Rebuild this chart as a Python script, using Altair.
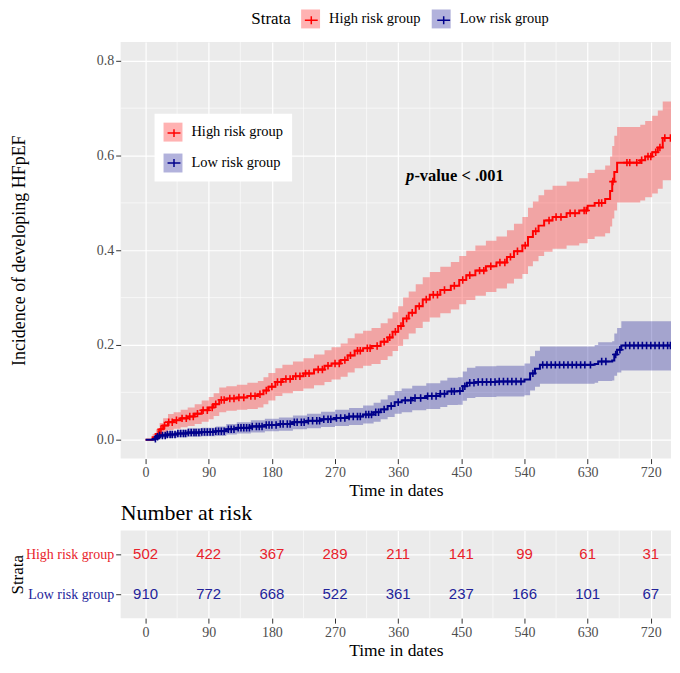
import altair as alt
import numpy as np
import pandas as pd

SERIF = "Liberation Serif"
SANS = "Liberation Sans"

strata = ["High risk group", "Low risk group"]
line_colors = ["#FF0000", "#00008B"]
table_colors = ["#E8222B", "#23239A"]

# ---- High risk group: step knots (time, estimate, lower, upper)
high_time = [0, 10, 15, 20, 25, 32, 40, 50, 60, 70, 80, 90, 97, 105, 115, 130, 145, 160, 168, 175,
             185, 195, 210, 225, 240, 255, 265, 278, 288, 298, 310, 322, 335, 345, 352, 360, 367, 375,
             385, 395, 405, 420, 435, 447, 457, 470, 485, 500, 515, 525, 537, 545, 552, 560, 568, 580,
             600, 618, 630, 640, 655, 662, 665, 668, 672, 705, 712, 722, 730, 737, 755]
high_est = [0, 0.005, 0.012, 0.022, 0.030, 0.037, 0.041, 0.045, 0.049, 0.055, 0.062, 0.068, 0.075, 0.084,
            0.087, 0.089, 0.092, 0.096, 0.104, 0.112, 0.122, 0.128, 0.134, 0.140, 0.148, 0.156, 0.161,
            0.168, 0.178, 0.188, 0.193, 0.198, 0.207, 0.216, 0.228, 0.240, 0.256, 0.268, 0.282, 0.296,
            0.306, 0.316, 0.325, 0.337, 0.347, 0.357, 0.366, 0.374, 0.386, 0.398, 0.410, 0.428, 0.440,
            0.452, 0.463, 0.470, 0.478, 0.484, 0.494, 0.500, 0.508, 0.525, 0.545, 0.565, 0.585, 0.590,
            0.598, 0.607, 0.617, 0.637, 0.637]
high_lo = [0, 0.000, 0.003, 0.009, 0.015, 0.020, 0.023, 0.026, 0.029, 0.033, 0.038, 0.043, 0.050, 0.058,
           0.061, 0.063, 0.065, 0.068, 0.075, 0.083, 0.092, 0.098, 0.103, 0.108, 0.115, 0.122, 0.127,
           0.133, 0.142, 0.151, 0.156, 0.160, 0.168, 0.176, 0.187, 0.198, 0.212, 0.224, 0.236, 0.249,
           0.258, 0.267, 0.275, 0.286, 0.295, 0.304, 0.312, 0.319, 0.330, 0.340, 0.350, 0.366, 0.377,
           0.388, 0.397, 0.403, 0.410, 0.415, 0.424, 0.429, 0.436, 0.450, 0.467, 0.484, 0.501, 0.505,
           0.512, 0.520, 0.530, 0.548, 0.548]
high_up = [0, 0.012, 0.022, 0.035, 0.045, 0.054, 0.058, 0.063, 0.068, 0.075, 0.083, 0.090, 0.098, 0.110,
           0.113, 0.116, 0.120, 0.124, 0.132, 0.141, 0.151, 0.158, 0.165, 0.172, 0.180, 0.189, 0.195,
           0.203, 0.214, 0.224, 0.230, 0.236, 0.246, 0.256, 0.269, 0.282, 0.300, 0.313, 0.328, 0.343,
           0.354, 0.365, 0.375, 0.388, 0.399, 0.410, 0.420, 0.429, 0.442, 0.456, 0.470, 0.490, 0.503,
           0.516, 0.528, 0.536, 0.545, 0.552, 0.563, 0.570, 0.579, 0.598, 0.620, 0.642, 0.660, 0.665,
           0.673, 0.684, 0.695, 0.714, 0.714]

# ---- Low risk group
low_time = [0, 12, 15, 20, 30, 45, 60, 80, 100, 115, 130, 150, 170, 190, 210, 230, 250, 270, 290, 310,
            325, 335, 345, 355, 365, 380, 400, 420, 430, 445, 452, 458, 470, 500, 540, 548, 555, 562,
            600, 640, 645, 665, 668, 672, 678, 755]
low_est = [0, 0.002, 0.006, 0.009, 0.011, 0.013, 0.015, 0.016, 0.018, 0.022, 0.025, 0.028, 0.031, 0.033,
           0.037, 0.040, 0.043, 0.046, 0.049, 0.053, 0.058, 0.064, 0.071, 0.079, 0.083, 0.088, 0.092,
           0.097, 0.102, 0.103, 0.113, 0.120, 0.122, 0.123, 0.127, 0.140, 0.150, 0.158, 0.158, 0.160,
           0.165, 0.167, 0.180, 0.190, 0.199, 0.199]
low_lo = [0, 0.000, 0.001, 0.003, 0.004, 0.005, 0.006, 0.007, 0.008, 0.011, 0.013, 0.015, 0.018, 0.019,
          0.022, 0.024, 0.027, 0.029, 0.031, 0.034, 0.038, 0.043, 0.048, 0.055, 0.058, 0.062, 0.065,
          0.069, 0.073, 0.074, 0.082, 0.088, 0.090, 0.091, 0.094, 0.104, 0.112, 0.118, 0.118, 0.120,
          0.124, 0.125, 0.135, 0.142, 0.146, 0.146]
low_up = [0, 0.005, 0.011, 0.015, 0.018, 0.021, 0.024, 0.025, 0.028, 0.033, 0.037, 0.041, 0.044, 0.047,
          0.051, 0.055, 0.059, 0.063, 0.067, 0.072, 0.078, 0.085, 0.094, 0.103, 0.108, 0.114, 0.119,
          0.125, 0.131, 0.132, 0.144, 0.152, 0.155, 0.156, 0.161, 0.176, 0.188, 0.197, 0.197, 0.200,
          0.206, 0.208, 0.224, 0.236, 0.250, 0.250]

# ---- censoring times
high_censor = [18, 22, 27, 33, 38, 44, 52, 58, 63, 68, 74, 82, 88, 95, 100, 108, 112, 120, 126, 133, 140,
               150, 156, 163, 172, 180, 188, 193, 200, 206, 214, 220, 228, 233, 246, 252, 260, 270, 276,
               284, 292, 302, 306, 316, 320, 330, 340, 348, 356, 364, 372, 380, 390, 400, 410, 416, 426,
               440, 452, 462, 476, 482, 492, 505, 512, 520, 530, 541, 556, 575, 585, 592, 605, 612, 625,
               628, 646, 650, 666, 686, 690, 700, 707, 716, 720, 727, 733, 740, 748]
low_censor = [14, 17, 20, 24, 28, 31, 35, 38, 42, 46, 50, 54, 57, 61, 65, 69, 72, 76, 80, 84, 88, 92, 96,
              100, 104, 108, 112, 118, 122, 126, 132, 136, 140, 144, 148, 152, 158, 162, 166, 172, 176,
              180, 186, 192, 196, 202, 206, 212, 216, 222, 226, 232, 238, 244, 248, 254, 260, 264, 272,
              278, 284, 290, 296, 302, 306, 314, 318, 322, 328, 332, 340, 350, 360, 370, 378, 384, 392,
              402, 408, 414, 420, 426, 436, 440, 448, 455, 462, 468, 474, 480, 486, 492, 498, 504, 510,
              516, 522, 528, 535, 552, 566, 572, 578, 584, 590, 596, 602, 608, 614, 620, 626, 634, 650,
              656, 670, 676, 684, 690, 696, 702, 708, 714, 720, 726, 732, 738, 744, 748]

# ---- number at risk
risk_times = [0, 90, 180, 270, 360, 450, 540, 630, 720]
risk_high = [502, 422, 367, 289, 211, 141, 99, 61, 31]
risk_low = [910, 772, 668, 522, 361, 237, 166, 101, 67]

# ---- axes / grid breaks
x_ticks = [0, 90, 180, 270, 360, 450, 540, 630, 720]
x_minor = [45, 135, 225, 315, 405, 495, 585, 675]
y_ticks = [0.0, 0.2, 0.4, 0.6, 0.8]
y_minor = [0.1, 0.3, 0.5, 0.7]
x_domain = [-35.5, 748.8]
y_domain = [-0.04, 0.84]

pval_coord = [371, 0.556]

# ---------------- data frames
curve = pd.concat([
    pd.DataFrame({"time": high_time, "est": high_est, "lo": high_lo, "up": high_up, "strata": strata[0]}),
    pd.DataFrame({"time": low_time, "est": low_est, "lo": low_lo, "up": low_up, "strata": strata[1]}),
], ignore_index=True)


def censor_frame(times, knots, est, name):
    knots = np.asarray(knots)
    est = np.asarray(est)
    idx = np.searchsorted(knots, np.asarray(times), side="right") - 1
    return pd.DataFrame({"time": times, "est": est[idx], "strata": name})


censor = pd.concat([
    censor_frame(high_censor, high_time, high_est, strata[0]),
    censor_frame(low_censor, low_time, low_est, strata[1]),
], ignore_index=True)

risk = pd.concat([
    pd.DataFrame({"time": risk_times, "n": risk_high, "strata": strata[0]}),
    pd.DataFrame({"time": risk_times, "n": risk_low, "strata": strata[1]}),
], ignore_index=True)

xminor_df = pd.DataFrame({"time": x_minor})
yminor_df = pd.DataFrame({"est": y_minor})
pval_df = pd.DataFrame({"time": [pval_coord[0]], "est": [pval_coord[1]],
                        "p": ["p"], "rest": ["-value < .001"]})

# ---------------- axes
def x_axis():
    return alt.Axis(values=x_ticks, title="Time in dates", titleFont=SERIF, titleFontSize=17.5,
                    titleFontWeight="normal", titleColor="black", titlePadding=2,
                    labelFont=SERIF, labelFontSize=14, labelColor="#4D4D4D", labelPadding=2,
                    tickSize=5, tickColor="#333333", tickWidth=1, grid=True, gridColor="white",
                    gridWidth=1.2, domain=False)


y_axis = alt.Axis(values=y_ticks, format=".1f", title="Incidence of developing HFpEF",
                  titleX=-92, titleFont=SERIF, titleFontSize=18, titleFontWeight="normal",
                  titleColor="black", labelFont=SERIF, labelFontSize=14, labelColor="#4D4D4D",
                  labelPadding=2, tickSize=5, tickColor="#333333", tickWidth=1, grid=True,
                  gridColor="white", gridWidth=1.2, domain=False)

xs = alt.Scale(domain=x_domain, nice=False, zero=False)
ys = alt.Scale(domain=y_domain, nice=False, zero=False)
X = alt.X("time:Q", scale=xs, axis=x_axis())
Y = alt.Y("est:Q", scale=ys, axis=y_axis)

CROSS_KEY = "M-0.68,0H0.68M0,-0.42V0.42"
CROSS_MARK = "M-1,0H1M0,-1V1"

# legend layout numbers (top legend: title "Strata" then two keys)
TOP_X, TOP_Y = 131, -32.5
TITLE_W = 39.7          # width of "Strata" at 17px serif
LABEL1_W = 91.8         # width of "High risk group" at 14.5px serif
TITLE_PAD, COL_PAD, LAB_OFF = 10, 11, 9

common_leg = dict(labelFont=SERIF, labelFontSize=14.5, labelColor="black", labelOffset=LAB_OFF,
                  symbolSize=361, labelLimit=200)
top_sq_leg = dict(orient="none", legendX=TOP_X, legendY=TOP_Y, direction="horizontal",
                  title="Strata", titleOrient="left", titleFont=SERIF, titleFontSize=17,
                  titleFontWeight="normal", titleColor="black", titlePadding=TITLE_PAD,
                  columnPadding=COL_PAD, **common_leg)
top_cross_leg = dict(orient="none", legendX=TOP_X + TITLE_W + TITLE_PAD, legendY=TOP_Y,
                     direction="horizontal", title=None, labelExpr="''",
                     columnPadding=COL_PAD + LABEL1_W, **common_leg)
inset_leg = dict(orient="none", legendX=34, legendY=72, direction="vertical", title=None,
                 padding=9, rowPadding=12, **common_leg)

fill_scale = alt.Scale(domain=strata, range=line_colors)

grid_x = alt.Chart(xminor_df).mark_rule(color="white", strokeWidth=0.6).encode(x=X)
grid_y = alt.Chart(yminor_df).mark_rule(color="white", strokeWidth=0.6).encode(y=Y)

area_lower = alt.Chart(curve).mark_area(interpolate="step-after", opacity=0.3, clip=True).encode(
    x=X, y=alt.Y("lo:Q", scale=ys, axis=y_axis), y2="est:Q",
    fill=alt.Fill("strata:N", scale=fill_scale,
                  legend=alt.Legend(symbolType="square", symbolStrokeWidth=0, **top_sq_leg)))

area_upper = alt.Chart(curve).mark_area(interpolate="step-after", opacity=0.3, clip=True).encode(
    x=X, y=alt.Y("est:Q", scale=ys, axis=y_axis), y2="up:Q",
    fill=alt.Fill("strata:N", scale=fill_scale,
                  legend=alt.Legend(symbolType="square", symbolStrokeWidth=0, fillColor="white",
                                    **inset_leg)))

lines = alt.Chart(curve).mark_line(interpolate="step-after", strokeWidth=2, clip=True).encode(
    x=X, y=Y,
    stroke=alt.Stroke("strata:N", scale=fill_scale,
                      legend=alt.Legend(symbolType=CROSS_KEY, symbolFillColor="transparent",
                                        **top_cross_leg)))

marks = alt.Chart(censor).mark_point(shape=CROSS_MARK, size=56, strokeWidth=1.6, filled=False,
                                     opacity=1, clip=True).encode(
    x=X, y=Y,
    stroke=alt.Stroke("strata:N", scale=fill_scale,
                      legend=alt.Legend(symbolType=CROSS_KEY, symbolFillColor="transparent",
                                        labelExpr="''", **inset_leg)))

pv1 = alt.Chart(pval_df).mark_text(font=SERIF, fontSize=16.5, fontWeight="bold", fontStyle="italic",
                                   align="left", baseline="middle", color="black").encode(
    x=X, y=Y, text="p:N")
pv2 = alt.Chart(pval_df).mark_text(font=SERIF, fontSize=16.5, fontWeight="bold", align="left",
                                   baseline="middle", color="black", dx=8.5).encode(
    x=X, y=Y, text="rest:N")

main = alt.layer(grid_x, grid_y, area_lower, area_upper, lines, marks, pv1, pv2).resolve_scale(
    fill="independent", stroke="independent").properties(width=552, height=418)

# ---------------- risk table
label_color = {"condition": {"test": f"datum.value === '{strata[0]}'", "value": table_colors[0]},
               "value": table_colors[1]}
ty_axis = alt.Axis(title="Strata", titleX=-94, titleFont=SERIF, titleFontSize=17,
                   titleFontWeight="normal", titleColor="black", labelFont=SERIF,
                   labelFontSize=14, labelColor=label_color, labelPadding=2, tickSize=5,
                   tickColor="#333333", tickWidth=1, grid=True, gridColor="white", gridWidth=1.2,
                   domain=False)
TX = alt.X("time:Q", scale=xs, axis=x_axis())
tgrid = alt.Chart(xminor_df).mark_rule(color="white", strokeWidth=0.6).encode(x=TX)
ttext = alt.Chart(risk).mark_text(font=SANS, fontSize=15).encode(
    x=TX,
    y=alt.Y("strata:N", sort=strata, scale=alt.Scale(type="point", padding=0.6), axis=ty_axis),
    color=alt.Color("strata:N", scale=alt.Scale(domain=strata, range=table_colors), legend=None),
    text="n:Q")
table = alt.layer(tgrid, ttext).properties(
    width=552, height=88,
    title=alt.Title("Number at risk", anchor="start", frame="group", font=SERIF, fontSize=22,
                    fontWeight="normal", color="black", offset=5))

chart = alt.vconcat(main, table, spacing=72, bounds="flush").properties(
    padding={"left": 1, "top": 0, "right": 0, "bottom": 0}
).configure_view(fill="#EBEBEB", stroke=None)

chart.save("out.html", embed_options={"renderer": "svg", "actions": False})
